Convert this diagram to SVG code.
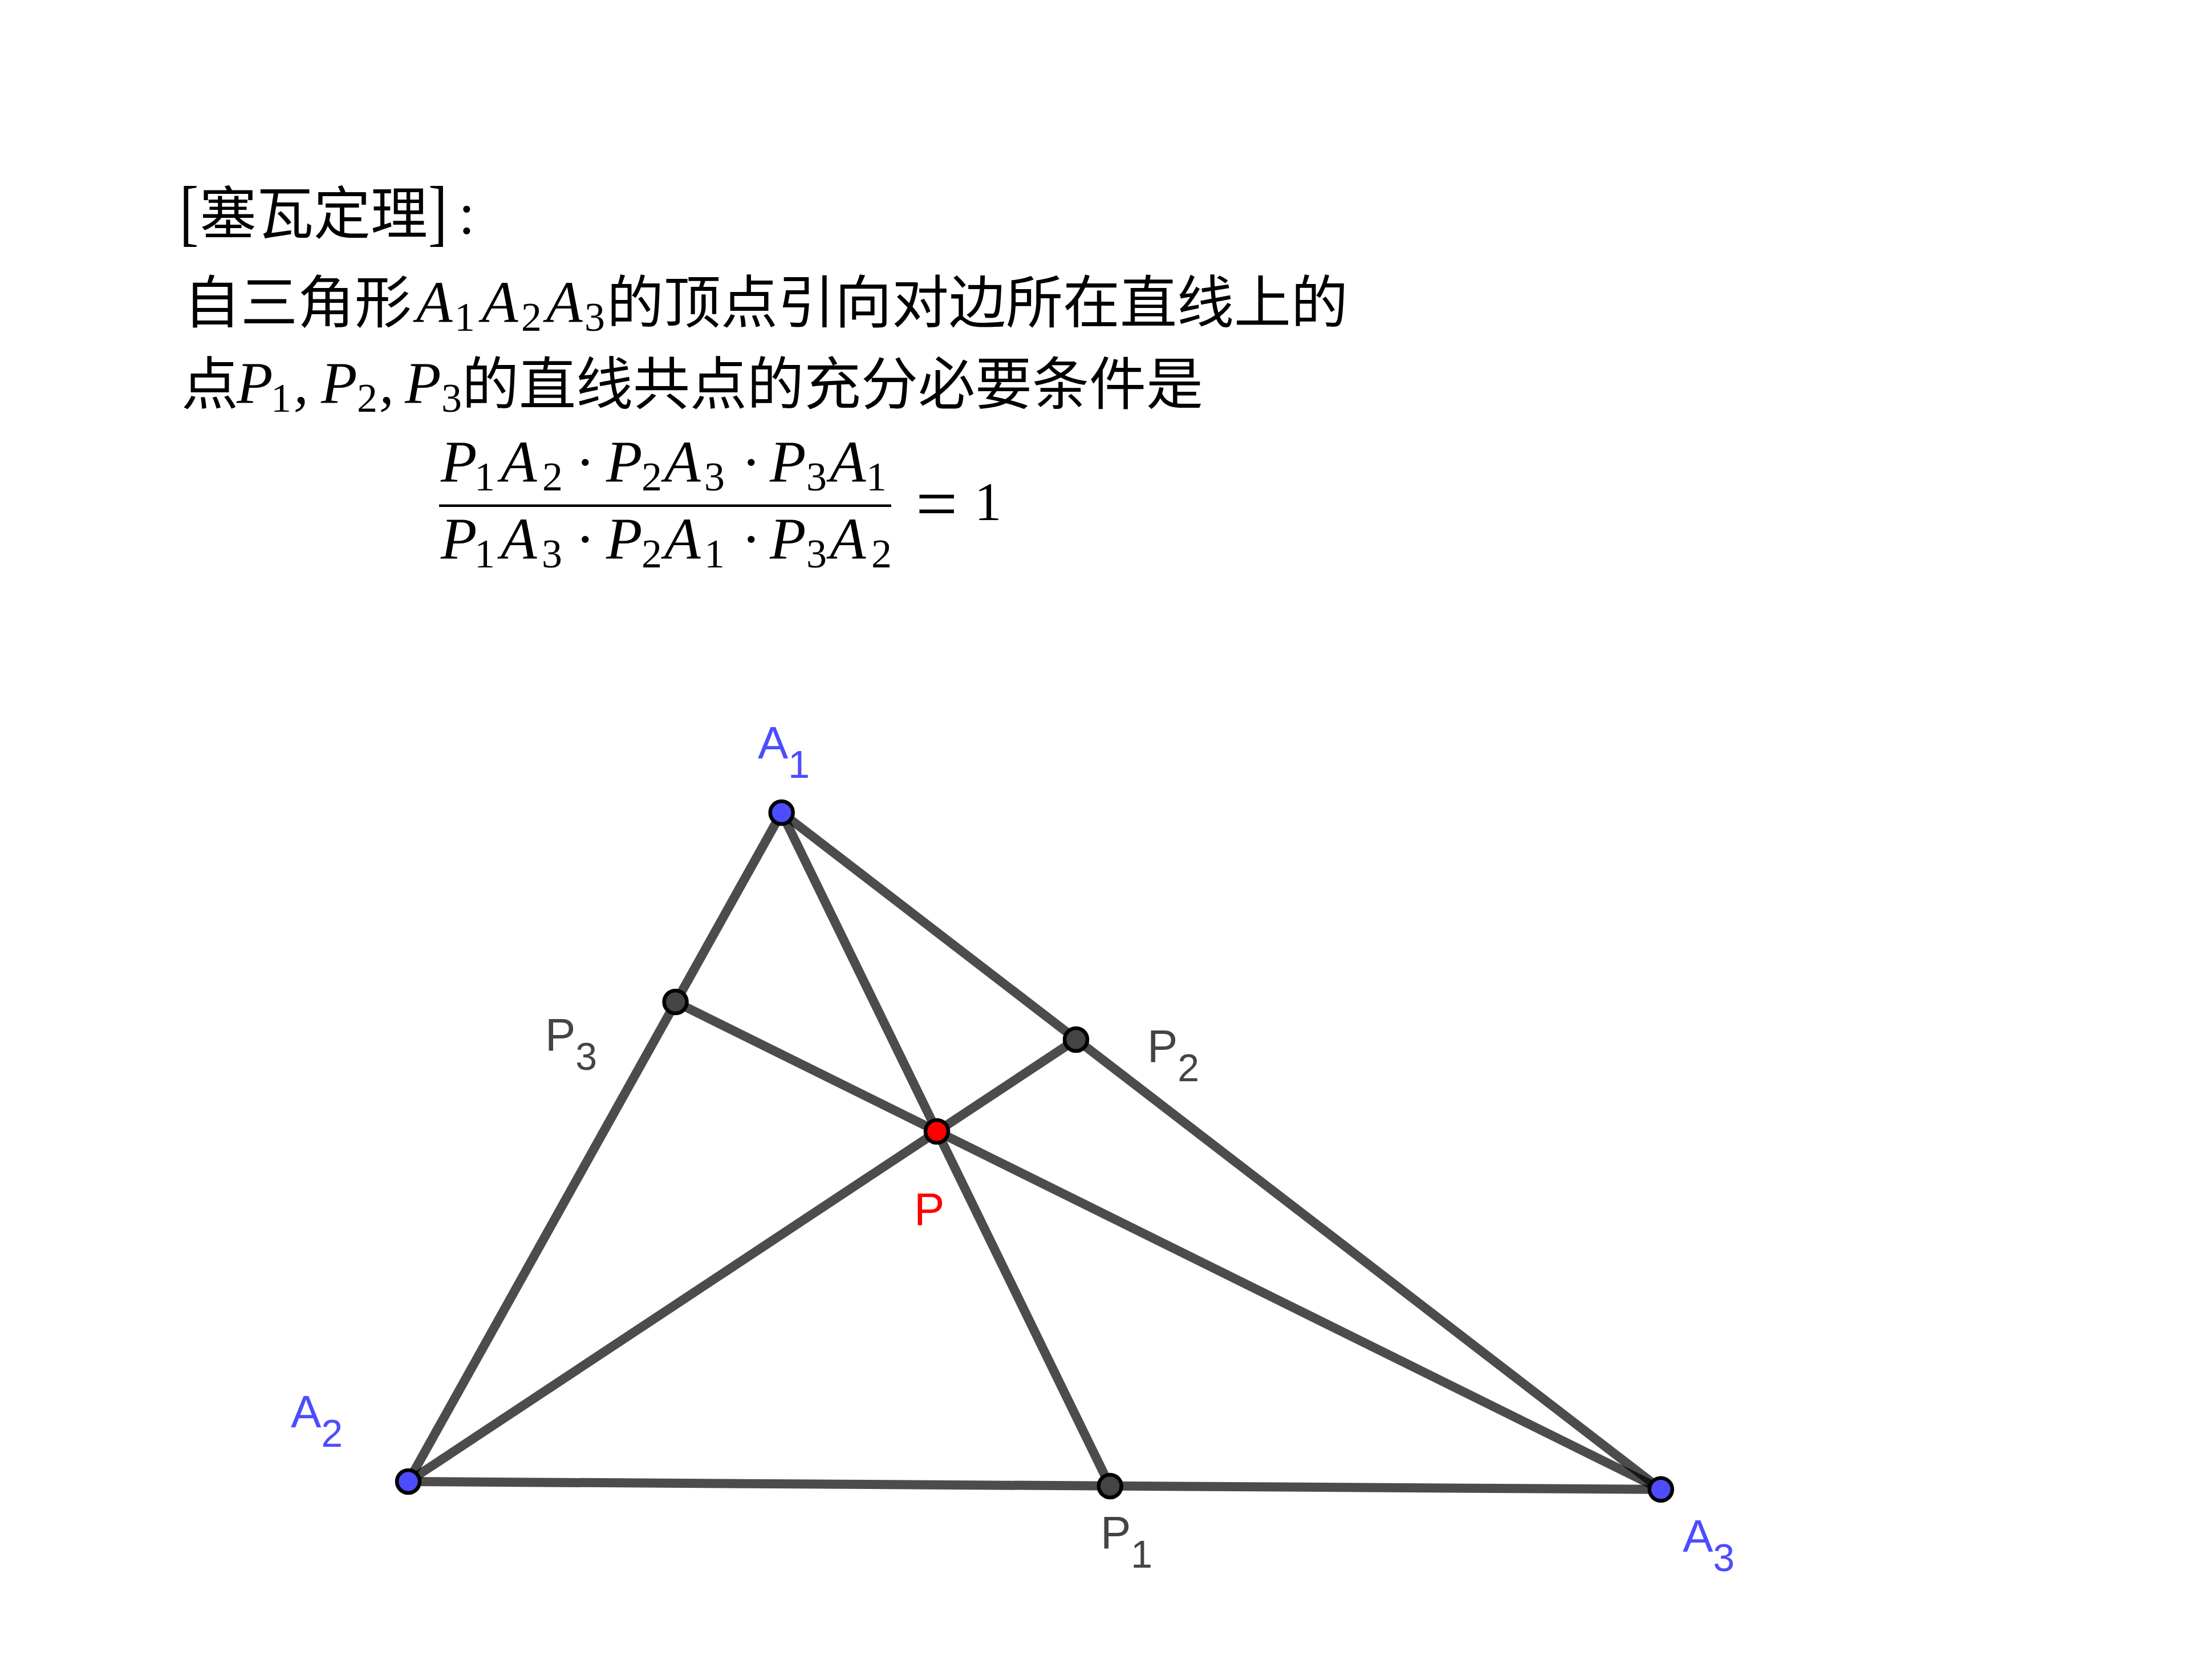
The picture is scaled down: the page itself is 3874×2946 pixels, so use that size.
<svg xmlns="http://www.w3.org/2000/svg" width="3874" height="2946" viewBox="0 0 3874 2946">
<style>
.cjk{font-family:"Noto Sans CJK SC","Noto Sans CJK TC",sans-serif;font-size:100px;fill:#000}
.mi{font-family:"Liberation Serif",serif;font-style:italic;font-size:104px;fill:#000}
.mn{font-family:"Liberation Serif",serif;font-size:72px;fill:#000}
.mo{font-family:"Liberation Serif",serif;font-size:104px;fill:#000}
.edge{stroke:#000;stroke-opacity:0.7;stroke-width:16;fill:none}
.pt{stroke:#000;stroke-width:6.5}
.blue{fill:#4d4dff}
.grey{fill:#444444}
.red{fill:#ff0000}
.lbl{font-family:"Liberation Sans",Arial,sans-serif;font-size:80px}
.sub{font-size:68px}
</style>
<rect width="3874" height="2946" fill="#ffffff"/>

<g id="statement">
  <text class="mo" transform="translate(315,416) scale(1,1.3)" x="0" y="0" style="font-size:100px">[</text>
  <text class="cjk" x="350" y="410">塞瓦定理</text>
  <text class="mo" transform="translate(751,416) scale(1,1.3)" x="0" y="0" style="font-size:100px">]</text>
  <text class="mo" x="804" y="410">:</text>

  <text class="cjk" x="322" y="566">自三角形</text>
  <text class="mi" x="730" y="565">A</text>
  <text class="mn" x="797" y="580">1</text>
  <text class="mi" x="845" y="565">A</text>
  <text class="mn" x="914" y="580">2</text>
  <text class="mi" x="958" y="565">A</text>
  <text class="mn" x="1025" y="580">3</text>
  <text class="cjk" x="1064" y="566">的顶点引向对边所在直线上的</text>

  <text class="cjk" x="318" y="709">点</text>
  <text class="mi" x="415" y="707">P</text>
  <text class="mn" x="475" y="722">1</text>
  <text class="mi" x="515" y="707">,</text>
  <text class="mi" x="563" y="707">P</text>
  <text class="mn" x="626" y="722">2</text>
  <text class="mi" x="665" y="707">,</text>
  <text class="mi" x="710" y="707">P</text>
  <text class="mn" x="774" y="722">3</text>
  <text class="cjk" x="810" y="709">的直线共点的充分必要条件是</text>
</g>

<g id="formula">
  <g id="numerator">
    <text class="mi" x="773" y="845">P</text>
    <text class="mn" x="832" y="860">1</text>
    <text class="mi" x="878" y="845">A</text>
    <text class="mn" x="951" y="860">2</text>
    <text class="mo" x="1009" y="845">·</text>
    <text class="mi" x="1063" y="845">P</text>
    <text class="mn" x="1125" y="860">2</text>
    <text class="mi" x="1165" y="845">A</text>
    <text class="mn" x="1235" y="860">3</text>
    <text class="mo" x="1300" y="845">·</text>
    <text class="mi" x="1350" y="845">P</text>
    <text class="mn" x="1414" y="860">3</text>
    <text class="mi" x="1455" y="845">A</text>
    <text class="mn" x="1519" y="860">1</text>
  </g>
  <rect x="770" y="884.5" width="793" height="4.5" fill="#000"/>
  <g id="denominator">
    <text class="mi" x="773" y="980">P</text>
    <text class="mn" x="832" y="995">1</text>
    <text class="mi" x="878" y="980">A</text>
    <text class="mn" x="950" y="995">3</text>
    <text class="mo" x="1009" y="980">·</text>
    <text class="mi" x="1063" y="980">P</text>
    <text class="mn" x="1125" y="995">2</text>
    <text class="mi" x="1165" y="980">A</text>
    <text class="mn" x="1235" y="995">1</text>
    <text class="mo" x="1300" y="980">·</text>
    <text class="mi" x="1350" y="980">P</text>
    <text class="mn" x="1414" y="995">3</text>
    <text class="mi" x="1455" y="980">A</text>
    <text class="mn" x="1528" y="995">2</text>
  </g>
  <text class="mo" x="1606" y="927" style="font-size:130px">=</text>
  <text class="mo" x="1709" y="912" style="font-size:95px">1</text>
</g>

<g id="connectors">
  <line class="edge" x1="1370.7" y1="1425" x2="716" y2="2598"/>
  <line class="edge" x1="716" y1="2598" x2="2912.7" y2="2611.7"/>
  <line class="edge" x1="2912.7" y1="2611.7" x2="1370.7" y2="1425"/>
  <line class="edge" x1="1370.7" y1="1425" x2="1946.7" y2="2606"/>
  <line class="edge" x1="716" y1="2598" x2="1887" y2="1823"/>
  <line class="edge" x1="2912.7" y1="2611.7" x2="1184.6" y2="1757"/>
</g>

<g id="A1">
  <circle class="pt blue" cx="1370.7" cy="1425" r="20"/>
  <text class="lbl" x="1329" y="1330" fill="#4d4dff">A<tspan class="sub" dy="34">1</tspan></text>
</g>
<g id="A2">
  <circle class="pt blue" cx="716" cy="2598" r="20"/>
  <text class="lbl" x="510" y="2503" fill="#4d4dff">A<tspan class="sub" dy="34">2</tspan></text>
</g>
<g id="A3">
  <circle class="pt blue" cx="2912.7" cy="2611.7" r="20"/>
  <text class="lbl" x="2951" y="2721" fill="#4d4dff">A<tspan class="sub" dy="34">3</tspan></text>
</g>
<g id="P1">
  <circle class="pt grey" cx="1946.7" cy="2606" r="20"/>
  <text class="lbl" x="1930" y="2715" fill="#444444">P<tspan class="sub" dy="34">1</tspan></text>
</g>
<g id="P2">
  <circle class="pt grey" cx="1887" cy="1823" r="20"/>
  <text class="lbl" x="2012" y="1862" fill="#444444">P<tspan class="sub" dy="34">2</tspan></text>
</g>
<g id="P3">
  <circle class="pt grey" cx="1184.6" cy="1757" r="20"/>
  <text class="lbl" x="956" y="1842" fill="#444444">P<tspan class="sub" dy="34">3</tspan></text>
</g>
<g id="P">
  <circle class="pt red" cx="1643" cy="1984" r="20"/>
  <text class="lbl" x="1603" y="2148" fill="#ff0000">P</text>
</g>
</svg>
